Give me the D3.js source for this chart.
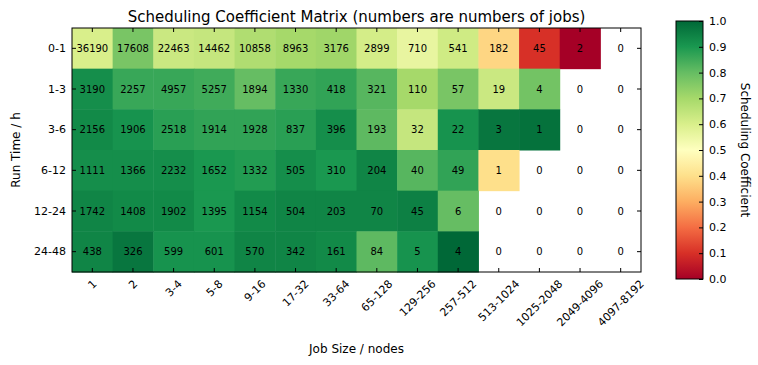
<!DOCTYPE html>
<html lang="en">
<head>
<meta charset="utf-8">
<script src="https://d3js.org/d3.v7.min.js"></script>
<style>
    body { margin: 0; background: #fff; }
    text { font-family: "DejaVu Sans", sans-serif; fill: #000; }
    .tick line, .domain { stroke: #000; }
</style>
</head>
<body>
<svg width="758" height="365"></svg>
<script>

// categories
var jobSizes = ["1", "2", "3-4", "5-8", "9-16", "17-32", "33-64", "65-128",
                "129-256", "257-512", "513-1024", "1025-2048", "2049-4096", "4097-8192"];
var runTimes = ["0-1", "1-3", "3-6", "6-12", "12-24", "24-48"];

// number of jobs per cell (rows = run time, columns = job size)
var jobCounts = [
    [36190, 17608, 22463, 14462, 10858, 8963, 3176, 2899, 710, 541, 182, 45, 2, 0],
    [3190, 2257, 4957, 5257, 1894, 1330, 418, 321, 110, 57, 19, 4, 0, 0],
    [2156, 1906, 2518, 1914, 1928, 837, 396, 193, 32, 22, 3, 1, 0, 0],
    [1111, 1366, 2232, 1652, 1332, 505, 310, 204, 40, 49, 1, 0, 0, 0],
    [1742, 1408, 1902, 1395, 1154, 504, 203, 70, 45, 6, 0, 0, 0, 0],
    [438, 326, 599, 601, 570, 342, 161, 84, 5, 4, 0, 0, 0, 0]
];

// scheduling coefficient per cell (estimated from colours; null = no jobs)
var coefficients = [
    [0.60, 0.77, 0.63, 0.64, 0.68, 0.70, 0.71, 0.61, 0.56, 0.62, 0.38, 0.10, 0.00, null],
    [0.92, 0.86, 0.86, 0.85, 0.80, 0.86, 0.87, 0.82, 0.70, 0.77, 0.63, 0.78, null, null],
    [0.93, 0.91, 0.88, 0.87, 0.87, 0.88, 0.92, 0.81, 0.64, 0.91, 0.97, 0.98, null, null],
    [0.92, 0.92, 0.92, 0.90, 0.89, 0.92, 0.90, 0.94, 0.82, 0.87, 0.40, null, null, null],
    [0.94, 0.93, 0.93, 0.90, 0.93, 0.94, 0.94, 0.94, 0.95, 0.80, null, null, null, null],
    [0.94, 0.97, 0.91, 0.91, 0.94, 0.94, 0.93, 0.81, 0.91, 1.00, null, null, null, null]
];

var colorbarTicks = [0, 0.1, 0.2, 0.3, 0.4, 0.5, 0.6, 0.7, 0.8, 0.9, 1.0];

// matplotlib RdYlGn
var rdylgn = ["#a50026", "#d73027", "#f46d43", "#fdae61", "#fee08b", "#ffffbf",
              "#d9ef8b", "#a6d96a", "#66bd63", "#1a9850", "#006837"];

var svg = d3.select("svg");
var plot = { left: 72, top: 28, right: 641, bottom: 272 };

var x = d3.scaleBand().domain(jobSizes).range([plot.left, plot.right]);
var y = d3.scaleBand().domain(runTimes).range([plot.top, plot.bottom]);
var color = d3.scaleLinear()
    .domain(d3.range(rdylgn.length).map(function(i) { return i / (rdylgn.length - 1); }))
    .range(rdylgn);

// flatten cells
var cells = [];
runTimes.forEach(function(r, i) {
    jobSizes.forEach(function(s, j) {
        cells.push({ run: r, size: s, n: jobCounts[i][j], c: coefficients[i][j] });
    });
});

svg.append("g").selectAll("rect")
    .data(cells.filter(function(d) { return d.c !== null; }))
    .enter().append("rect")
    .attr("x", function(d) { return x(d.size); })
    .attr("y", function(d) { return y(d.run); })
    .attr("width", x.bandwidth() + 0.5)
    .attr("height", y.bandwidth() + 0.5)
    .attr("fill", function(d) { return color(d.c); });

svg.append("g").selectAll("text")
    .data(cells)
    .enter().append("text")
    .attr("x", function(d) { return x(d.size) + x.bandwidth() / 2; })
    .attr("y", function(d) { return y(d.run) + y.bandwidth() / 2; })
    .attr("dy", "0.35em")
    .attr("text-anchor", "middle")
    .style("font-size", "10px")
    .text(function(d) { return d.n; });

// axes, ticks pointing inward (classic matplotlib)
var xb = svg.append("g").attr("transform", "translate(0," + plot.bottom + ")")
    .call(d3.axisBottom(x).tickSizeInner(-4).tickSizeOuter(0));
// rotated labels: bounding box centred under the tick, top just below the axis
xb.selectAll(".tick text")
    .style("font-size", "11px")
    .attr("text-anchor", "middle")
    .attr("dy", "0.35em")
    .attr("y", 0).attr("x", 0)
    .attr("transform", function() {
        var L = this.getComputedTextLength(), h = 11;
        var half = (L + h) * Math.SQRT1_2 / 2;
        return "translate(0," + (6 + half) + ") rotate(-45)";
    });

svg.append("g").attr("transform", "translate(0," + plot.top + ")")
    .call(d3.axisTop(x).tickSizeInner(-4).tickSizeOuter(0).tickFormat(""));

svg.append("g").attr("transform", "translate(" + plot.left + ",0)")
    .call(d3.axisLeft(y).tickSizeInner(-4).tickSizeOuter(0).tickPadding(6))
    .selectAll("text").style("font-size", "11px");

svg.append("g").attr("transform", "translate(" + plot.right + ",0)")
    .call(d3.axisRight(y).tickSizeInner(-4).tickSizeOuter(0).tickFormat(""));

svg.selectAll(".domain").remove();
svg.append("rect")
    .attr("x", plot.left).attr("y", plot.top)
    .attr("width", plot.right - plot.left).attr("height", plot.bottom - plot.top)
    .attr("fill", "none").attr("stroke", "#000").attr("stroke-width", 1);

// title and labels
svg.append("text")
    .attr("x", (plot.left + plot.right) / 2).attr("y", 22)
    .attr("text-anchor", "middle").style("font-size", "15px")
    .text("Scheduling Coefficient Matrix (numbers are numbers of jobs)");

svg.append("text")
    .attr("x", (plot.left + plot.right) / 2).attr("y", 353)
    .attr("text-anchor", "middle").style("font-size", "12px")
    .text("Job Size / nodes");

svg.append("text")
    .attr("transform", "translate(20," + (plot.top + plot.bottom) / 2 + ") rotate(-90)")
    .attr("text-anchor", "middle").style("font-size", "12px")
    .text("Run Time / h");

// colorbar
var cb = { left: 676, right: 703, top: 21, bottom: 279 };
var defs = svg.append("defs");
var grad = defs.append("linearGradient").attr("id", "cbgrad")
    .attr("x1", 0).attr("y1", 1).attr("x2", 0).attr("y2", 0);
grad.selectAll("stop").data(rdylgn).enter().append("stop")
    .attr("offset", function(d, i) { return i / (rdylgn.length - 1); })
    .attr("stop-color", function(d) { return d; });

svg.append("rect")
    .attr("x", cb.left).attr("y", cb.top)
    .attr("width", cb.right - cb.left).attr("height", cb.bottom - cb.top)
    .attr("fill", "url(#cbgrad)").attr("stroke", "#000");

var cy = d3.scaleLinear().domain([0, 1]).range([cb.bottom, cb.top]);
var cax = svg.append("g").attr("transform", "translate(" + cb.right + ",0)")
    .call(d3.axisRight(cy).tickValues(colorbarTicks).tickFormat(d3.format(".1f"))
        .tickSizeInner(-4).tickSizeOuter(0).tickPadding(6));
cax.select(".domain").remove();
cax.selectAll("text").style("font-size", "11px");

svg.append("text")
    .attr("transform", "translate(741," + (cb.top + cb.bottom) / 2 + ") rotate(90)")
    .attr("text-anchor", "middle").style("font-size", "12px")
    .text("Scheduling Coefficient");

</script>
</body>
</html>
